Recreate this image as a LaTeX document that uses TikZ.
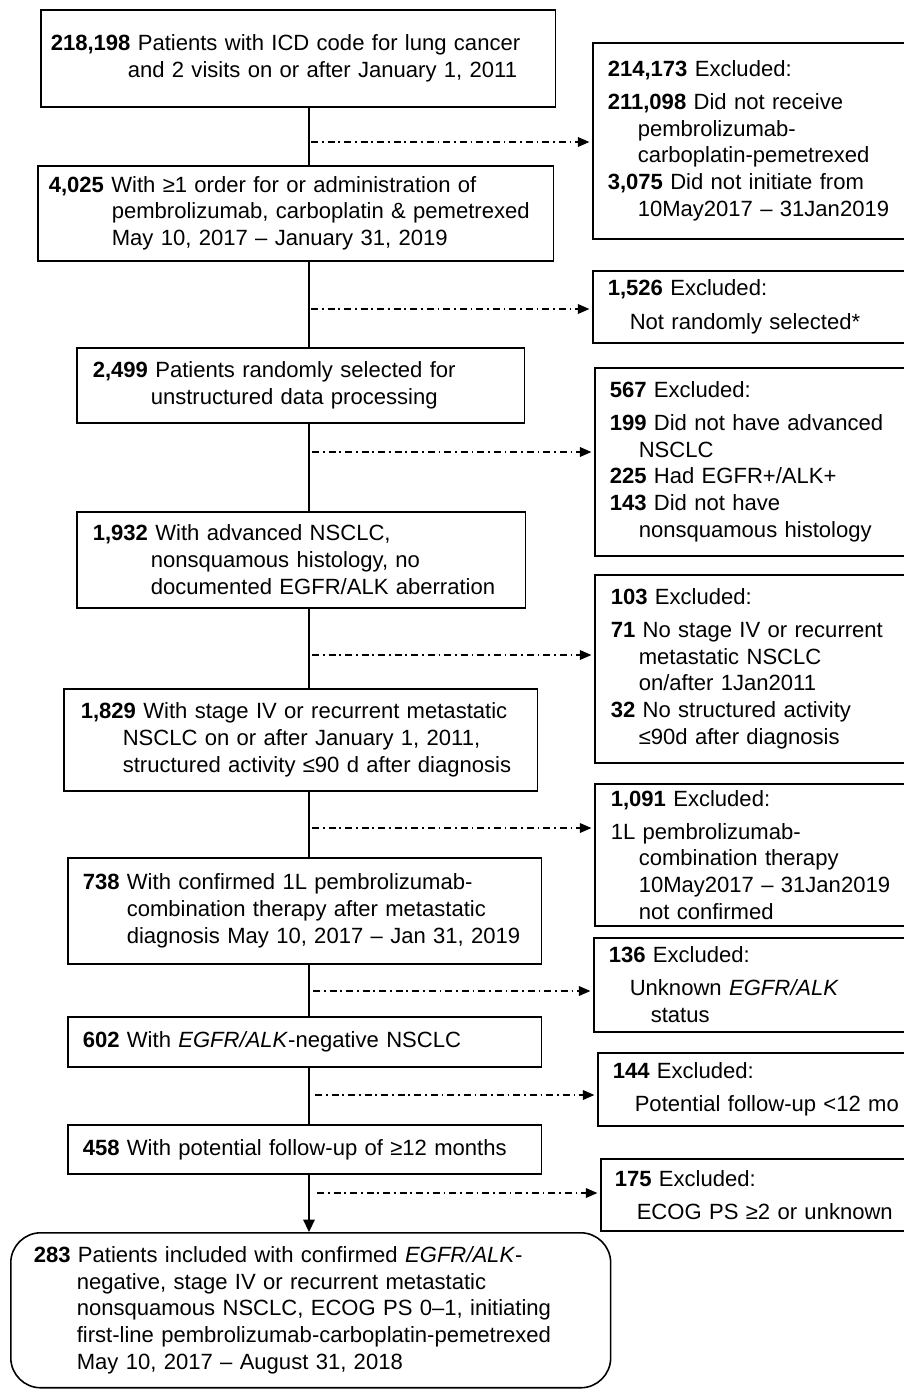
\documentclass[tikz,border=0pt]{standalone}
\usepackage{fontspec}
\setmainfont{Liberation Sans}
\usepackage{tikz}
\usetikzlibrary{arrows.meta, positioning}
\newcommand{\hs}[1]{\hspace*{#1}}
\tikzstyle{mainbox} = [rectangle, draw, line width=0.9pt, anchor=north west, align=left, inner ysep=0pt, font=\fontsize{12.55}{15.2}\selectfont]
\tikzstyle{exclbox} = [rectangle, draw, line width=0.9pt, anchor=north west, align=left, inner ysep=0pt, font=\fontsize{12.55}{15.2}\selectfont]
\tikzstyle{finalbox} = [mainbox, rounded corners=0.6cm]
\tikzstyle{flow} = [line width=0.9pt]
\tikzstyle{exclarrow} = [line width=0.7pt, dash pattern=on 4pt off 2.2pt on 1pt off 2.2pt, -{Triangle[length=6.5pt,width=5.5pt]}, shorten >=1.5pt]

\begin{document}
\begin{tikzpicture}[x=0.02cm, y=-0.02cm]
\useasboundingbox (0,0) rectangle (903,1390);

% Main flow
\node (start) [mainbox, minimum width=10.3cm, minimum height=1.94cm, inner xsep=0.2cm, text width=9.9cm] at (40,9)
  {\textbf{218,198} Patients with ICD code for lung cancer\\ \hs{1.54cm}and 2 visits on or after January 1, 2011};
\node (order) [mainbox, minimum width=10.32cm, minimum height=1.9cm, inner xsep=0.22cm, text width=9.88cm] at (37,165)
  {\textbf{4,025} With ≥1 order for or administration of\\ \hs{1.26cm}pembrolizumab, carboplatin \& pemetrexed\\ \hs{1.26cm}May 10, 2017 – January 31, 2019};
\node (random) [mainbox, minimum width=8.96cm, minimum height=1.5cm, inner xsep=0.32cm, text width=8.32cm] at (76,347)
  {\textbf{2,499} Patients randomly selected for\\ \hs{1.16cm}unstructured data processing};
\node (advanced) [mainbox, minimum width=8.98cm, minimum height=1.92cm, inner xsep=0.32cm, text width=8.34cm] at (76,511)
  {\textbf{1,932} With advanced NSCLC,\\ \hs{1.16cm}nonsquamous histology, no\\ \hs{1.16cm}documented EGFR/ALK aberration};
\node (stage) [mainbox, minimum width=9.48cm, minimum height=2.04cm, inner xsep=0.34cm, text width=8.8cm] at (63,688)
  {\textbf{1,829} With stage IV or recurrent metastatic\\ \hs{0.84cm}NSCLC on or after January 1, 2011,\\ \hs{0.84cm}structured activity ≤90 d after diagnosis};
\node (confirmed) [mainbox, minimum width=9.48cm, minimum height=2.12cm, inner xsep=0.3cm, text width=8.88cm] at (67,857)
  {\textbf{738} With confirmed 1L pembrolizumab-\\ \hs{0.88cm}combination therapy after metastatic\\ \hs{0.88cm}diagnosis May 10, 2017 – Jan 31, 2019};
\node (negative) [mainbox, minimum width=9.48cm, minimum height=1.0cm, inner xsep=0.3cm, text width=8.88cm] at (67,1016)
  {\textbf{602} With \textit{EGFR/ALK}-negative NSCLC};
\node (followup) [mainbox, minimum width=9.48cm, minimum height=0.98cm, inner xsep=0.3cm, text width=8.88cm] at (67,1124)
  {\textbf{458} With potential follow-up of ≥12 months};
\node (final) [finalbox, minimum width=12cm, minimum height=3.1cm, inner xsep=0.46cm, text width=11.08cm] at (10,1232)
  {\textbf{283} Patients included with confirmed \textit{EGFR/ALK}-\\ \hs{0.86cm}negative, stage IV or recurrent metastatic\\ \hs{0.86cm}nonsquamous NSCLC, ECOG PS 0–1, initiating\\ \hs{0.86cm}first-line pembrolizumab-carboplatin-pemetrexed\\ \hs{0.86cm}May 10, 2017 – August 31, 2018};

% Exclusions
\node (excl1) [exclbox, minimum width=7.36cm, minimum height=3.92cm, inner xsep=0.3cm, text width=6.76cm] at (592,42)
  {\textbf{214,173} Excluded:\\[3.6pt] \textbf{211,098} Did not receive\\ \hs{0.6cm}pembrolizumab-\\ \hs{0.6cm}carboplatin-pemetrexed\\ \textbf{3,075} Did not initiate from\\ \hs{0.6cm}10May2017 – 31Jan2019};
\node (excl2) [exclbox, minimum width=7.36cm, minimum height=1.44cm, inner xsep=0.3cm, text width=6.76cm] at (592,270)
  {\textbf{1,526} Excluded:\\[3.6pt] \hs{0.44cm}Not randomly selected*};
\node (excl3) [exclbox, minimum width=7.32cm, minimum height=3.76cm, inner xsep=0.3cm, text width=6.72cm] at (594,367)
  {\textbf{567} Excluded:\\[3.6pt] \textbf{199} Did not have advanced\\ \hs{0.58cm}NSCLC\\ \textbf{225} Had EGFR+/ALK+\\ \textbf{143} Did not have\\ \hs{0.58cm}nonsquamous histology};
\node (excl4) [exclbox, minimum width=7.32cm, minimum height=3.76cm, inner xsep=0.32cm, text width=6.68cm] at (594,574)
  {\textbf{103} Excluded:\\[3.6pt] \textbf{71} No stage IV or recurrent\\ \hs{0.56cm}metastatic NSCLC\\ \hs{0.56cm}on/after 1Jan2011\\ \textbf{32} No structured activity\\ \hs{0.56cm}≤90d after diagnosis};
\node (excl5) [exclbox, minimum width=7.32cm, minimum height=2.84cm, inner xsep=0.32cm, text width=6.68cm] at (594,783)
  {\textbf{1,091} Excluded:\\[3.6pt] 1L pembrolizumab-\\ \hs{0.56cm}combination therapy\\ \hs{0.56cm}10May2017 – 31Jan2019\\ \hs{0.56cm}not confirmed\\[-12pt]};
\node (excl6) [exclbox, minimum width=7.34cm, minimum height=1.88cm, inner xsep=0.3cm, text width=6.74cm] at (593,937)
  {\textbf{136} Excluded:\\[3.6pt] \hs{0.42cm}Unknown \textit{EGFR/ALK}\\ \hs{0.84cm}status};
\node (excl7) [exclbox, minimum width=7.26cm, minimum height=1.46cm, inner xsep=0.3cm, text width=6.66cm] at (597,1052)
  {\textbf{144} Excluded:\\[3.6pt] \hs{0.44cm}Potential follow-up <12 mo};
\node (excl8) [exclbox, minimum width=7.2cm, minimum height=1.44cm, inner xsep=0.28cm, text width=6.64cm] at (600,1158)
  {\textbf{175} Excluded:\\[3.6pt] \hs{0.44cm}ECOG PS ≥2 or unknown};

% Spine
\coordinate (spine) at (309,0);
\draw [flow] (spine |- start.south) -- (spine |- order.north);
\draw [flow] (spine |- order.south) -- (spine |- random.north);
\draw [flow] (spine |- random.south) -- (spine |- advanced.north);
\draw [flow] (spine |- advanced.south) -- (spine |- stage.north);
\draw [flow] (spine |- stage.south) -- (spine |- confirmed.north);
\draw [flow] (spine |- confirmed.south) -- (spine |- negative.north);
\draw [flow] (spine |- negative.south) -- (spine |- followup.north);
\draw [flow, -{Triangle[length=7pt,width=6.5pt]}] (spine |- followup.south) -- (spine |- final.north);

% Exclusion arrows
\coordinate (b1) at (311,142);
\coordinate (b2) at (311,309);
\coordinate (b3) at (312,452);
\coordinate (b4) at (312,655);
\coordinate (b5) at (312,828);
\coordinate (b6) at (313,991);
\coordinate (b7) at (315,1095);
\coordinate (b8) at (317,1193);
\draw [exclarrow] (b1) -- (b1 -| excl1.west);
\draw [exclarrow] (b2) -- (b2 -| excl2.west);
\draw [exclarrow] (b3) -- (b3 -| excl3.west);
\draw [exclarrow] (b4) -- (b4 -| excl4.west);
\draw [exclarrow] (b5) -- (b5 -| excl5.west);
\draw [exclarrow] (b6) -- (b6 -| excl6.west);
\draw [exclarrow] (b7) -- (b7 -| excl7.west);
\draw [exclarrow] (b8) -- (b8 -| excl8.west);

\end{tikzpicture}
\end{document}
